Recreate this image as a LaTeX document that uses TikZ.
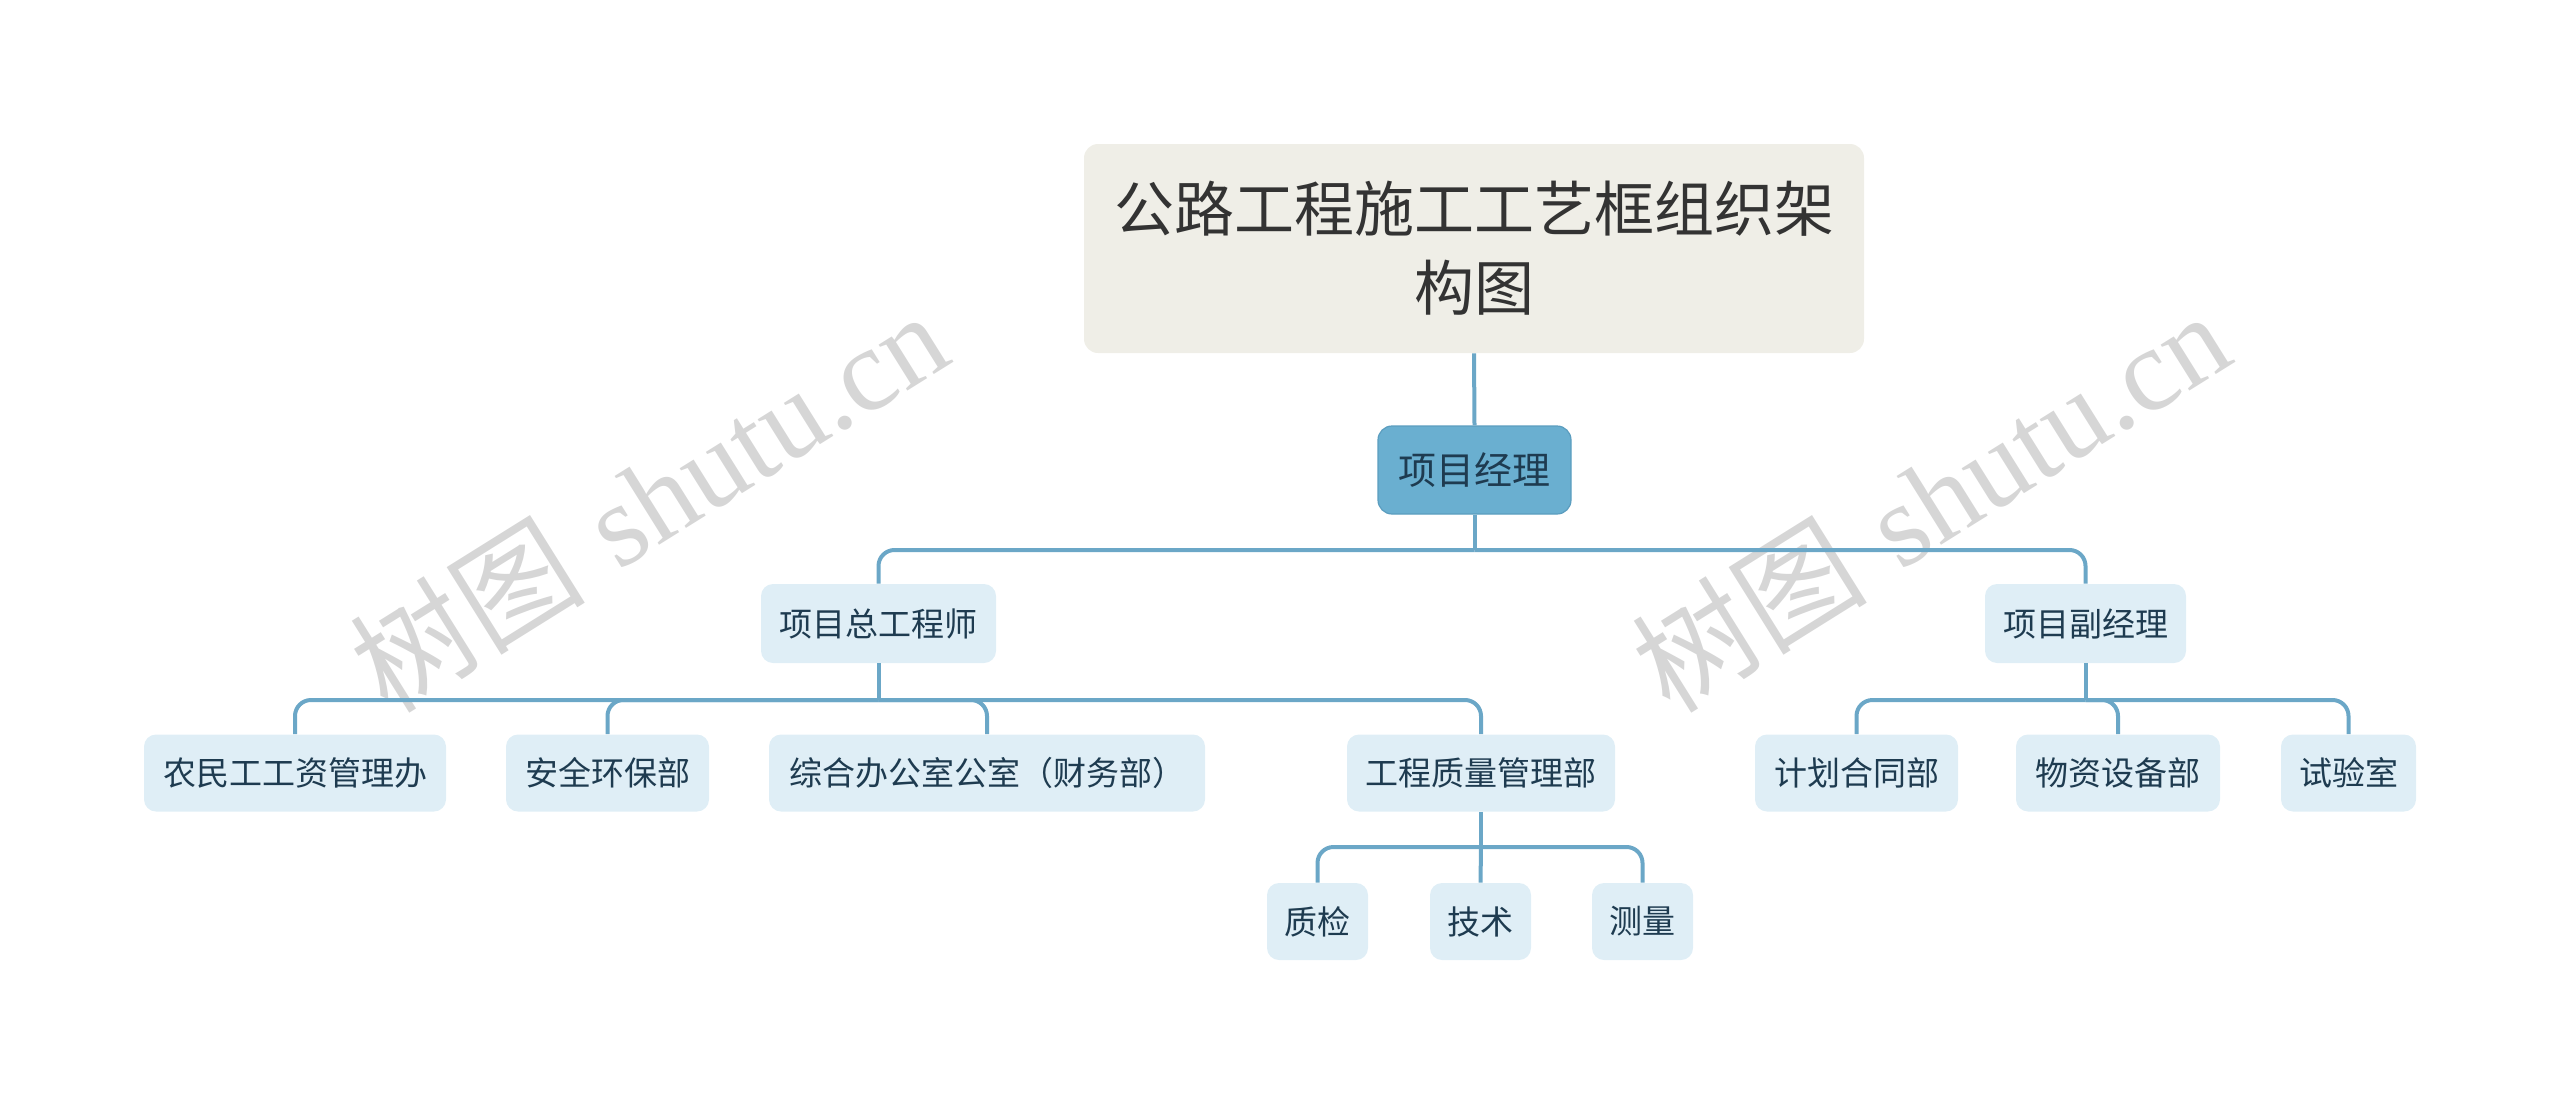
\documentclass[tikz,border=0pt]{standalone}
\usepackage{fontspec}
\newfontfamily\cjk{Noto Sans CJK SC}
\newfontfamily\wmserif{Liberation Serif}
\definecolor{linec}{HTML}{6BA7C7}
\definecolor{childfill}{HTML}{DFEEF6}
\definecolor{txt}{HTML}{1E3B50}
\definecolor{titlefill}{HTML}{EFEEE7}
\definecolor{titletxt}{HTML}{333333}
\definecolor{pmfill}{HTML}{6AAFD0}
\definecolor{pmdraw}{HTML}{5B9DBF}
\definecolor{wm}{HTML}{D6D6D6}
\begin{document}
\begin{tikzpicture}[x=0.5pt,y=-0.5pt,
  conn/.style={draw=linec, line width=2pt},
  elbow/.style={conn, rounded corners=8pt},
  box/.style={rounded corners=6pt, fill=childfill, text=txt, font=\cjk\fontsize{16.5}{20}\selectfont, minimum height=38.5pt, inner sep=0pt},
  qbox/.style={box, minimum width=50.5pt},
  wmark/.style={text=wm, rotate=32, inner sep=0pt, font=\fontsize{59}{66}\selectfont},
]
\useasboundingbox (0,0) rectangle (2560,1103);

% watermarks
\node[wmark] (wm1) at (648,500) {{\cjk 树图} {\wmserif shutu.cn}};
\node[wmark] (wm2) at (1930,500) {{\cjk 树图} {\wmserif shutu.cn}};

% title
\node[fill=titlefill, text=titletxt, rounded corners=7pt, minimum width=390pt, minimum height=104.5pt, inner sep=0pt, align=center,
  font=\cjk\fontsize{30}{39.5}\selectfont] (title) at (1474,248.5) {公路工程施工工艺框组织架\\构图};

% project manager
\node[fill=pmfill, draw=pmdraw, line width=0.6pt, text=txt, rounded corners=7pt, minimum width=96.5pt, minimum height=44pt, inner sep=0pt,
  font=\cjk\fontsize{19}{23}\selectfont] (pm) at (1474.5,470) {项目经理};

% level 1
\node[box, minimum width=117.5pt, minimum height=39.5pt] (zgcs) at (878.5,623.5) {项目总工程师};
\node[box, minimum width=100.5pt, minimum height=39.5pt] (fjl) at (2085.5,623.5) {项目副经理};

% level 2 (chief engineer)
\node[box, minimum width=151pt] (n1) at (295,773) {农民工工资管理办};
\node[box, minimum width=101.5pt] (n2) at (607.5,773) {安全环保部};
\node[box, minimum width=218pt] (n3) at (987,773) {综合办公室公室（财务部）};
\node[box, minimum width=134pt] (n4) at (1481,773) {工程质量管理部};

% level 2 (deputy manager)
\node[box, minimum width=101.5pt] (r1) at (1856.5,773) {计划合同部};
\node[box, minimum width=102pt] (r2) at (2118,773) {物资设备部};
\node[box, minimum width=67.5pt] (r3) at (2348.5,773) {试验室};

% level 3
\node[qbox] (q1) at (1317.5,921.5) {质检};
\node[qbox] (q2) at (1480.5,921.5) {技术};
\node[qbox] (q3) at (1642.5,921.5) {测量};

% junctions
\coordinate (j1) at (1474.5,550);
\coordinate (j2) at (878.5,700);
\coordinate (j3) at (2085.5,700);
\coordinate (j4) at (1481,847);

% connectors
\draw[conn] (title.south) -- (pm.north);
\draw[conn] (pm.south) -- (j1);
\draw[elbow] (j1) -| (zgcs.north);
\draw[elbow] (j1) -| (fjl.north);

\draw[conn] (zgcs.south) -- (j2);
\draw[elbow] (j2) -| (n1.north);
\draw[elbow] (j2) -| (n2.north);
\draw[elbow] (j2) -| (n3.north);
\draw[elbow] (j2) -| (n4.north);

\draw[conn] (fjl.south) -- (j3);
\draw[elbow] (j3) -| (r1.north);
\draw[elbow] (j3) -| (r2.north);
\draw[elbow] (j3) -| (r3.north);

\draw[conn] (n4.south) -- (j4);
\draw[elbow] (j4) -| (q1.north);
\draw[conn] (j4) -- (q2.north);
\draw[elbow] (j4) -| (q3.north);
\end{tikzpicture}
\end{document}
